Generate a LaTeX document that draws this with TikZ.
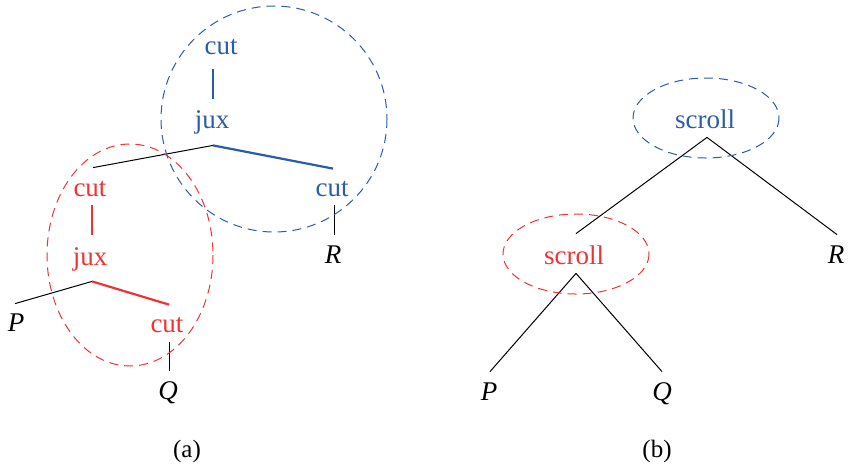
\documentclass[tikz,border=0pt]{standalone}
\usepackage{fontspec}
\setmainfont{Liberation Serif}
\usetikzlibrary{calc}
\definecolor{cblue}{HTML}{2A5CAA}
\definecolor{cred}{HTML}{EE3333}
\begin{document}
\begin{tikzpicture}[x=0.5pt,y=-0.5pt,
  lbl/.style={inner sep=0pt, anchor=base, text height=8pt, text depth=3pt,
    font=\fontsize{13.5}{16}\selectfont},
  bl/.style={lbl, text=cblue},
  rd/.style={lbl, text=cred},
  var/.style={lbl, font=\fontsize{13.5}{16}\selectfont\itshape},
  subcap/.style={inner sep=0pt, anchor=base, font=\fontsize{12.5}{14}\selectfont},
  thinline/.style={draw=black, line width=0.5pt},
  bthick/.style={draw=cblue, line width=1.1pt},
  rthick/.style={draw=cred, line width=1.1pt},
  bdash/.style={draw=cblue, line width=0.5pt, dash pattern=on 4.5pt off 3pt},
  rdash/.style={draw=cred, line width=0.5pt, dash pattern=on 4.5pt off 3pt}]
\useasboundingbox (0,0) rectangle (849,467);

% ---------- (a) ----------
\node[bl] (cutT) at (221,54) {cut};
\node[bl] (juxT) at (212,128) {jux};
\node[bl] (cutR) at (332,196) {cut};
\node[var] (R) at (333,263) {R};
\node[rd] (cutL) at (90,196) {cut};
\node[rd] (juxL) at (90,265) {jux};
\node[rd] (cutQ) at (167,332) {cut};
\node[var] (P) at (16,331) {P};
\node[var] (Q) at (168,399) {Q};
\node[subcap] (capa) at (187,457) {(a)};

\coordinate (ja) at ($(juxT.south)+(1,11)$);
\coordinate (jb) at ($(juxL.south)+(2,10)$);

\draw[bthick] ($(juxT.north |- cutT.south)+(1,9)$) -- ($(juxT.north)+(1,-13)$);
\draw[thinline] (ja) -- ($(cutL.north)+(3,-12)$);
\draw[bthick] (ja) -- ($(cutR.north)+(1,-11)$);
\draw[thinline] ($(cutR.south)+(2,3)$) -- ($(R.north)+(1,-12)$);
\draw[rthick] ($(cutL.south)+(2,3)$) -- ($(juxL.north)+(2,-14)$);
\draw[thinline] (jb) -- ($(P.north)+(-1,-11)$);
\draw[rthick] (jb) -- ($(cutQ.north)+(2,-11)$);
\draw[thinline] ($(cutQ.south)+(2,4)$) -- ($(Q.north)+(1,-12)$);

\draw[bdash] (274,119) circle [radius=113];
\draw[rdash] (130,255) ellipse [x radius=83, y radius=111];

% ---------- (b) ----------
\node[bl] (scB) at (705,128) {scroll};
\node[rd] (scR) at (574,264) {scroll};
\node[var] (Rb) at (836,263) {R};
\node[var] (Pb) at (489,400) {P};
\node[var] (Qb) at (662,400) {Q};
\node[subcap] (capb) at (657,457) {(b)};

\coordinate (jc) at ($(scB.south)+(2,3)$);
\coordinate (jd) at ($(scR.south)+(2,3)$);

\draw[thinline] (jc) -- ($(scR.north)+(2,-14)$);
\draw[thinline] (jc) -- ($(Rb.north)+(1,-12)$);
\draw[thinline] (jd) -- ($(Pb.north)+(1,-12)$);
\draw[thinline] (jd) -- ($(Qb.north)+(0,-12)$);

\draw[bdash] ($(scB.center)+(1,-5)$) ellipse [x radius=73, y radius=40];
\draw[rdash] ($(scR.center)+(2,-5)$) ellipse [x radius=73, y radius=40];
\end{tikzpicture}
\end{document}
